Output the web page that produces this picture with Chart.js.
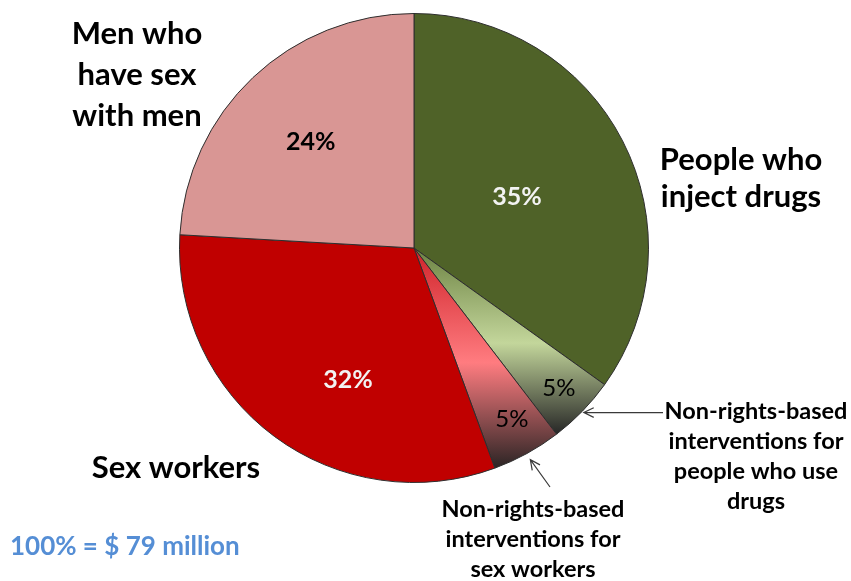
<!DOCTYPE html>
<html>
<head>
<meta charset="utf-8">
<script src="https://cdn.jsdelivr.net/npm/chart.js@4"></script>
<style>
  body { margin: 0; background: #fff; }
</style>
</head>
<body>
<canvas id="chart" width="851" height="581"></canvas>
<script>
// Slices go clockwise from 12 o'clock, same order as the picture.
const groups = [
  'People who inject drugs',
  'Non-rights-based interventions for people who use drugs',
  'Non-rights-based interventions for sex workers',
  'Sex workers',
  'Men who have sex with men'
];
const shares = [34.9, 4.7, 4.8, 31.5, 24.1];
const shareLabels = ['35%', '5%', '5%', '32%', '24%'];
const totalLabel = '100% = $ 79 million';

// Outside captions (one entry per line).
const captionMsm = ['Men who', 'have sex', 'with men'];
const captionPwid = ['People who', 'inject drugs'];
const captionSw = ['Sex workers'];
const captionDrugNote = ['Non-rights-based', 'interventions for', 'people who use', 'drugs'];
const captionSwNote = ['Non-rights-based', 'interventions for', 'sex workers'];

const FONT = 'Lato, "Open Sans", sans-serif';

// flat fills, the two small slices get a vertical gradient
const flatColors = ['#4f6228', null, null, '#c00000', '#d99694'];
const gradientStops = {
  1: [[0, '#6c8242'], [0.51, '#c3d69b'], [1, '#262626']],
  2: [[0, '#d0232a'], [0.52, '#ff7c80'], [1, '#2a2424']]
};
// where the % text sits: fraction of radius, angle nudge in degrees
const labelPlace = [[0.49, 1], [0.86, 0], [0.84, -1], [0.63, -10], [0.63, -1]];
const labelStyle = [
  { color: '#f2f2f2', weight: 'bold', size: 25 },
  { color: '#000', weight: 'normal', size: 24 },
  { color: '#000', weight: 'normal', size: 24 },
  { color: '#f2f2f2', weight: 'bold', size: 25 },
  { color: '#000', weight: 'bold', size: 25 }
];

function sliceFill(context) {
  const i = context.dataIndex;
  if (flatColors[i]) return flatColors[i];
  const stops = gradientStops[i];
  const area = context.chart.chartArea;
  if (!area) return stops[1][1];
  const cx = (area.left + area.right) / 2;
  const cy = (area.top + area.bottom) / 2;
  const r = Math.min(area.right - area.left, area.bottom - area.top) / 2;
  const sum = shares.reduce((a, b) => a + b, 0);
  let start = 0;
  for (let k = 0; k < i; k++) start += shares[k];
  const a0 = start / sum * 2 * Math.PI;
  const a1 = (start + shares[i]) / sum * 2 * Math.PI;
  const ys = [cy, cy - r * Math.cos(a0), cy - r * Math.cos(a1)];
  if (a0 < Math.PI && a1 > Math.PI) ys.push(cy + r);
  const g = context.chart.ctx.createLinearGradient(0, Math.min(...ys), 0, Math.max(...ys));
  stops.forEach(s => g.addColorStop(s[0], s[1]));
  return g;
}

function drawLines(ctx, lines, x, y0, step, font, color, align) {
  ctx.font = font;
  ctx.fillStyle = color;
  ctx.textAlign = align || 'center';
  ctx.textBaseline = 'alphabetic';
  lines.forEach((t, k) => ctx.fillText(t, x, y0 + k * step));
}

function arrow(ctx, x0, y0, x1, y1) {
  const a = Math.atan2(y1 - y0, x1 - x0);
  const len = 11, spread = 0.45;
  ctx.save();
  ctx.strokeStyle = '#3a3a3a';
  ctx.lineWidth = 1.2;
  ctx.beginPath();
  ctx.moveTo(x0, y0);
  ctx.lineTo(x1, y1);
  ctx.moveTo(x1 - len * Math.cos(a - spread), y1 - len * Math.sin(a - spread));
  ctx.lineTo(x1, y1);
  ctx.lineTo(x1 - len * Math.cos(a + spread), y1 - len * Math.sin(a + spread));
  ctx.stroke();
  ctx.restore();
}

const textPlugin = {
  id: 'textPlugin',
  afterDatasetsDraw(chart) {
    const ctx = chart.ctx;
    const arcs = chart.getDatasetMeta(0).data;
    ctx.save();
    arcs.forEach((arc, i) => {
      const mid = (arc.startAngle + arc.endAngle) / 2 + labelPlace[i][1] * Math.PI / 180;
      const rr = arc.outerRadius * labelPlace[i][0];
      const st = labelStyle[i];
      ctx.font = st.weight + ' ' + st.size + 'px ' + FONT;
      ctx.fillStyle = st.color;
      ctx.textAlign = 'center';
      ctx.textBaseline = 'middle';
      ctx.fillText(shareLabels[i], arc.x + Math.cos(mid) * rr, arc.y + Math.sin(mid) * rr);
    });

    const big = 'bold 31px ' + FONT;
    const small = 'bold 23.5px ' + FONT;
    drawLines(ctx, captionMsm, 137, 44, 41, big, '#000');
    drawLines(ctx, captionPwid, 741, 170, 37, big, '#000');
    drawLines(ctx, captionSw, 176, 478, 0, big, '#000');
    drawLines(ctx, captionDrugNote, 756, 419, 30, small, '#000');
    drawLines(ctx, captionSwNote, 533, 517, 30, small, '#000');
    drawLines(ctx, [totalLabel], 10, 555, 0, 'bold 26px ' + FONT, '#558ed5', 'left');

    // arrows point at the middle of the two small slices
    const tip = (arc, extra) => {
      const m = (arc.startAngle + arc.endAngle) / 2;
      return [arc.x + Math.cos(m) * (arc.outerRadius + extra), arc.y + Math.sin(m) * (arc.outerRadius + extra)];
    };
    const t1 = tip(arcs[1], 2);
    arrow(ctx, 663, t1[1], t1[0], t1[1]);
    const t2 = tip(arcs[2], 7);
    arrow(ctx, 550, 487, t2[0], t2[1]);
    ctx.restore();
  }
};

const ctx = document.getElementById('chart').getContext('2d');
const myChart = new Chart(ctx, {
  type: 'pie',
  data: {
    labels: groups,
    datasets: [{
      data: shares,
      backgroundColor: sliceFill,
      borderColor: '#2e2e2e',
      borderWidth: 1
    }]
  },
  options: {
    responsive: false,
    animation: false,
    layout: { padding: { left: 179, right: 202, top: 13, bottom: 98 } },
    plugins: {
      legend: { display: false },
      tooltip: { enabled: false }
    }
  },
  plugins: [textPlugin]
});
</script>
</body>
</html>
